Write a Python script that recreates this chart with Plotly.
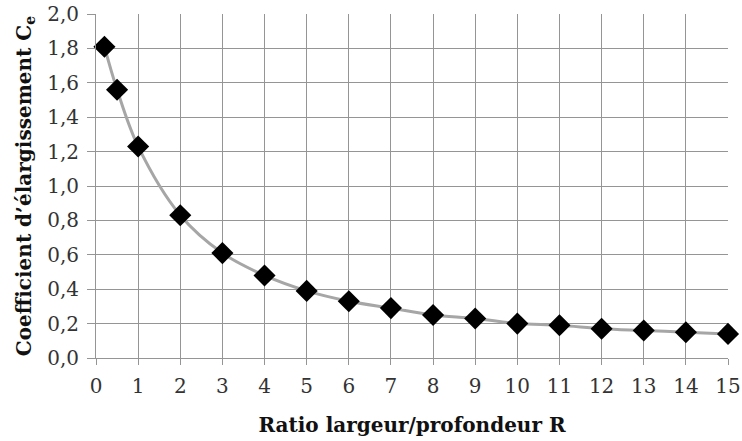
import plotly.graph_objects as go

ratio_r = [0.2, 0.5, 1, 2, 3, 4, 5, 6, 7, 8, 9, 10, 11, 12, 13, 14, 15]
coef_ce = [1.81, 1.56, 1.23, 0.83, 0.61, 0.48, 0.39, 0.33, 0.29, 0.25, 0.23, 0.20, 0.19, 0.17, 0.16, 0.15, 0.14]
x_ticks = list(range(0, 16))
y_ticks = [0.0, 0.2, 0.4, 0.6, 0.8, 1.0, 1.2, 1.4, 1.6, 1.8, 2.0]

fig = go.Figure()
fig.add_trace(go.Scatter(
    x=ratio_r, y=coef_ce, mode="lines",
    line=dict(color="#A6A6A6", width=3, shape="spline", smoothing=1.0),
    hoverinfo="skip", showlegend=False, cliponaxis=False))
fig.add_trace(go.Scatter(
    x=ratio_r, y=coef_ce, mode="markers",
    marker=dict(symbol="diamond", color="black", size=17, line=dict(width=0)),
    showlegend=False, cliponaxis=False))

font_fam = "DejaVu Serif"
fig.update_layout(
    width=742, height=441,
    margin=dict(l=96, r=14, t=14, b=83),
    paper_bgcolor="white", plot_bgcolor="white",
    separators=", ",
    font=dict(family=font_fam, size=20, color="#222"),
)
fig.update_xaxes(
    range=[0, 15], tickvals=x_ticks, ticktext=[str(v) for v in x_ticks],
    automargin=False, ticklabeloverflow="allow",
    showgrid=True, gridcolor="#959595", gridwidth=1,
    showline=True, linecolor="#959595", linewidth=1,
    ticks="outside", ticklen=6, tickcolor="#959595", ticklabelstandoff=4,
    zeroline=False,
    tickfont=dict(family=font_fam, size=20, color="#333"),
    title=dict(text="<b>Ratio largeur/profondeur R</b>", standoff=20,
               font=dict(family=font_fam, size=20, color="#111")),
)
fig.update_yaxes(
    range=[0, 2.0], tickvals=y_ticks, tickformat=".1f",
    automargin=False, ticklabeloverflow="allow",
    showgrid=True, gridcolor="#959595", gridwidth=1,
    showline=True, linecolor="#959595", linewidth=1,
    ticks="outside", ticklen=8, tickcolor="#959595", ticklabelstandoff=4,
    zeroline=False,
    tickfont=dict(family=font_fam, size=20, color="#333"),
    title=dict(text="<b>Coefficient d’élargissement C<sub>e</sub></b>", standoff=10,
               font=dict(family=font_fam, size=20, color="#111")),
)

fig.write_html("out.html", config={"displayModeBar": False},
               post_script="document.body.style.margin='0';")
